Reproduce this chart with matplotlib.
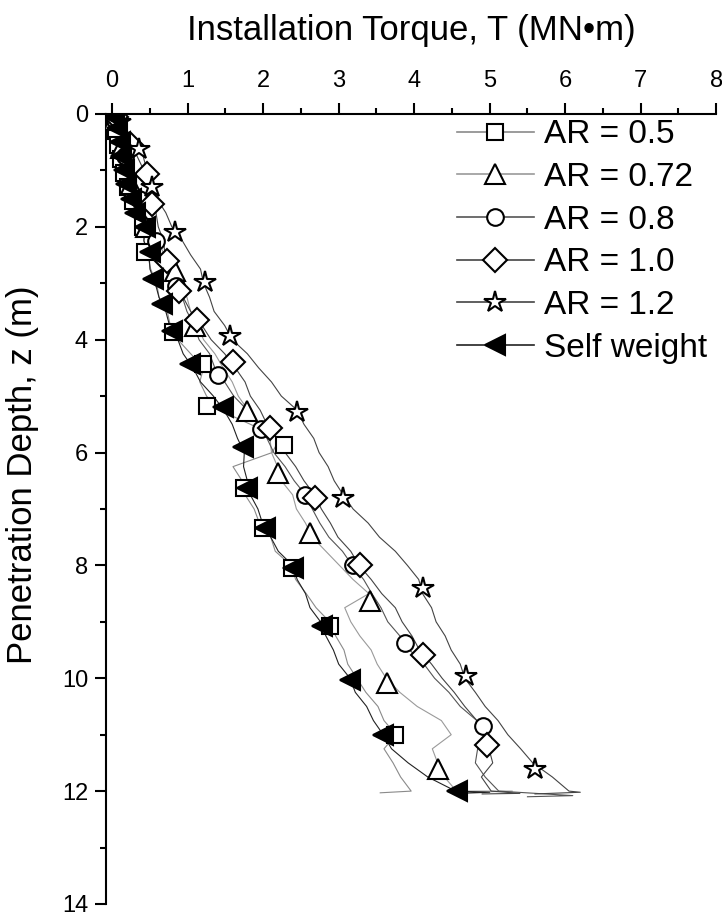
import numpy as np
import matplotlib
matplotlib.use("Agg")
import matplotlib.pyplot as plt
from matplotlib.lines import Line2D

plt.rcParams['font.family'] = ['Liberation Sans', 'DejaVu Sans']

# torque (MN.m) read along the depth grid 0, 0.25, ... 12 m
t_ar05 = [0.02, 0.06, 0.08, 0.13, 0.15, 0.21, 0.25, 0.34, 0.41, 0.42, 0.47, 0.51, 0.59, 0.62, 0.73, 0.77,
          0.87, 1.04, 1.21, 1.16, 1.25, 1.42, 1.83, 2.22, 2.12, 1.60, 1.72, 1.76, 1.88, 1.95, 2.10, 2.16,
          2.37, 2.43, 2.57, 2.70, 2.88, 2.96, 3.07, 3.12, 3.24, 3.36, 3.52, 3.60, 3.76, 3.60, 3.72, 3.82, 3.96]
t_ar072 = [0.03, 0.08, 0.10, 0.16, 0.18, 0.26, 0.31, 0.41, 0.49, 0.61, 0.69, 0.83, 0.89, 0.99, 1.04, 1.13,
           1.21, 1.36, 1.47, 1.59, 1.67, 1.80, 1.94, 2.09, 2.11, 2.19, 2.24, 2.39, 2.44, 2.56, 2.65, 2.83,
           3.01, 3.19, 3.40, 3.08, 3.16, 3.28, 3.43, 3.51, 3.63, 3.81, 4.04, 4.36, 4.49, 4.24, 4.31, 4.40, 4.56]
t_ar08 = [0.04, 0.09, 0.11, 0.17, 0.20, 0.29, 0.34, 0.43, 0.49, 0.59, 0.65, 0.75, 0.82, 0.93, 0.99, 1.09,
          1.15, 1.29, 1.36, 1.49, 1.61, 1.79, 1.93, 2.05, 2.14, 2.29, 2.41, 2.56, 2.65, 2.75, 2.87, 3.05,
          3.18, 3.33, 3.44, 3.56, 3.65, 3.81, 3.94, 4.13, 4.27, 4.46, 4.61, 4.83, 4.97, 4.84, 4.81, 4.94, 5.12]
t_ar10 = [0.05, 0.13, 0.21, 0.33, 0.42, 0.49, 0.51, 0.58, 0.61, 0.68, 0.70, 0.78, 0.84, 0.94, 1.04, 1.19,
          1.31, 1.49, 1.63, 1.76, 1.83, 1.96, 2.05, 2.19, 2.29, 2.43, 2.54, 2.68, 2.77, 2.89, 2.99, 3.16,
          3.27, 3.43, 3.57, 3.75, 3.84, 3.97, 4.07, 4.23, 4.37, 4.53, 4.67, 4.83, 4.91, 4.99, 5.04, 4.89, 5.02]
t_ar12 = [0.06, 0.16, 0.27, 0.41, 0.46, 0.53, 0.59, 0.71, 0.79, 0.93, 1.04, 1.17, 1.21, 1.29, 1.35, 1.49,
          1.59, 1.79, 1.94, 2.11, 2.24, 2.45, 2.54, 2.67, 2.74, 2.86, 2.94, 3.06, 3.19, 3.39, 3.54, 3.75,
          3.91, 4.06, 4.11, 4.23, 4.29, 4.41, 4.49, 4.61, 4.67, 4.81, 4.94, 5.11, 5.24, 5.41, 5.57, 5.83, 6.05]
t_self = [0.03, 0.07, 0.10, 0.11, 0.15, 0.17, 0.25, 0.29, 0.44, 0.42, 0.49, 0.50, 0.57, 0.62, 0.71, 0.76,
          0.87, 0.94, 1.07, 1.17, 1.34, 1.48, 1.59, 1.66, 1.75, 1.74, 1.79, 1.83, 1.93, 1.99, 2.10, 2.20,
          2.39, 2.45, 2.56, 2.62, 2.76, 2.83, 2.93, 3.00, 3.15, 3.22, 3.37, 3.46, 3.59, 3.70, 3.92, 4.18, 4.55]
depth = np.linspace(0, 12, len(t_ar05))

# torque spikes at final depth (T, z)
tail_ar05 = ([3.55], [12.03])
tail_ar072 = ([5.3, 4.7], [12.0, 12.02])
tail_ar08 = ([6.1, 5.5], [12.08, 12.1])
tail_ar10 = ([5.4, 4.9], [12.04, 12.05])
tail_ar12 = ([6.2, 5.6], [12.02, 12.05])
tail_self = ([5.0, 4.6], [12.02, 12.04])

# symbols
sq_t = [0.02, 0.05, 0.08, 0.12, 0.16, 0.21, 0.27, 0.41, 0.44, 0.81, 1.20, 1.26, 2.27, 1.74, 2.00, 2.38, 2.89, 3.75]
sq_z = [0.05, 0.3, 0.55, 0.8, 1.05, 1.3, 1.55, 2.0, 2.45, 3.87, 4.44, 5.17, 5.86, 6.63, 7.34, 8.05, 9.08, 11.0]
tri_t = [0.03, 0.12, 0.25, 0.45, 0.83, 1.10, 1.79, 2.20, 2.62, 3.42, 3.64, 4.32]
tri_z = [0.1, 0.6, 1.25, 2.0, 2.78, 3.75, 5.26, 6.36, 7.42, 8.63, 10.09, 11.6]
cir_t = [0.04, 0.17, 0.35, 0.58, 0.85, 1.40, 1.97, 2.55, 3.19, 3.88, 4.91]
cir_z = [0.1, 0.75, 1.5, 2.25, 3.05, 4.62, 5.58, 6.75, 8.0, 9.38, 10.85]
dia_t = [0.05, 0.25, 0.46, 0.53, 0.73, 0.88, 1.12, 1.60, 2.09, 2.69, 3.28, 4.12, 4.97]
dia_z = [0.05, 0.55, 1.06, 1.6, 2.6, 3.13, 3.66, 4.4, 5.56, 6.8, 8.0, 9.59, 11.19]
star_t = [0.10, 0.35, 0.53, 0.83, 1.23, 1.56, 2.45, 3.06, 4.12, 4.68, 5.60]
star_z = [0.15, 0.62, 1.3, 2.1, 2.98, 3.93, 5.29, 6.8, 8.4, 9.96, 11.6]
sw_t = [0.03, 0.07, 0.10, 0.12, 0.15, 0.18, 0.25, 0.30, 0.44, 0.50, 0.54, 0.66, 0.79, 1.03, 1.47, 1.73,
        1.79, 2.02, 2.40, 2.78, 3.15, 3.59, 4.57]
sw_z = [0.05, 0.25, 0.5, 0.75, 1.0, 1.25, 1.5, 1.75, 2.0, 2.45, 2.93, 3.37, 3.84, 4.44, 5.2, 5.9,
        6.63, 7.34, 8.05, 9.08, 10.03, 11.0, 12.0]

labels = ["AR = 0.5", "AR = 0.72", "AR = 0.8", "AR = 1.0", "AR = 1.2", "Self weight"]

fig = plt.figure(figsize=(7.22, 9.23), dpi=100)
ax = fig.add_axes([0.147, 0.0206, 0.845, 0.856])

series = [
    (t_ar05, tail_ar05, sq_t, sq_z, 's', 12, 'white', '#8a8a8a'),
    (t_ar072, tail_ar072, tri_t, tri_z, '^', 14, 'white', '#9a9a9a'),
    (t_ar08, tail_ar08, cir_t, cir_z, 'o', 12, 'white', '#555555'),
    (t_ar10, tail_ar10, dia_t, dia_z, 'D', 12, 'white', '#444444'),
    (t_ar12, tail_ar12, star_t, star_z, '*', 16, 'white', '#444444'),
    (t_self, tail_self, sw_t, sw_z, '<', 14, 'black', '#222222'),
]

handles = []
for (tv, tail, mt, mz, mk, ms, fc, lc), lab in zip(series, labels):
    x = list(tv) + tail[0]
    y = list(depth) + tail[1]
    ax.plot(x, y, color=lc, lw=0.8, zorder=2)
    handles.append(Line2D([], [], color=lc, lw=1.2, marker=mk, markersize=ms,
                          markerfacecolor=fc, markeredgecolor='black', markeredgewidth=1.5))

for (tv, tail, mt, mz, mk, ms, fc, lc) in series:
    ax.plot(mt, mz, linestyle='none', marker=mk, markersize=ms, markerfacecolor=fc,
            markeredgecolor='black', markeredgewidth=1.5, zorder=3)

ax.set_xlim(-0.08, 8)
ax.set_ylim(14, 0)
ax.xaxis.tick_top()
ax.xaxis.set_label_position('top')
ax.set_xticks(range(0, 9))
ax.set_xticks(np.arange(0.5, 8, 1.0), minor=True)
ax.set_yticks(range(0, 15, 2))
ax.set_yticks(range(1, 14, 2), minor=True)
ax.spines['right'].set_visible(False)
ax.spines['bottom'].set_visible(False)
ax.spines['top'].set_linewidth(1.5)
ax.spines['left'].set_linewidth(1.5)
ax.tick_params(which='major', direction='out', length=8, width=1.5, labelsize=17)
ax.tick_params(axis='x', which='major', pad=8)
ax.tick_params(axis='y', which='major', pad=5)
ax.tick_params(which='minor', direction='out', length=4, width=1.5)
ax.set_xlabel("Installation Torque, T (MN\u2022m)", fontsize=25)
ax.set_ylabel("Penetration Depth, z (m)", fontsize=25)
ax.xaxis.set_label_coords(0.5, 1.094)
ax.yaxis.set_label_coords(-0.11, 0.543)

ax.legend(handles, labels, loc='upper left', bbox_to_anchor=(0.575, 0.993), frameon=False,
          fontsize=24, handlelength=2.3, handletextpad=0.3, labelspacing=0.35,
          borderpad=0, borderaxespad=0)

fig.savefig("out.png", dpi=100)
